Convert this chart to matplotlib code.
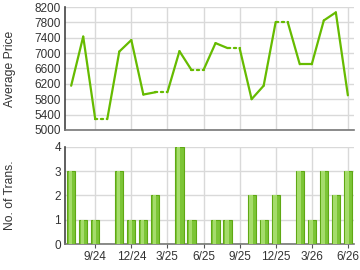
import numpy as np
import matplotlib.pyplot as plt

plt.rcParams['font.family'] = ['Liberation Sans', 'DejaVu Sans']

months = ['7/24', '8/24', '9/24', '10/24', '11/24', '12/24', '1/25', '2/25',
          '3/25', '4/25', '5/25', '6/25', '7/25', '8/25', '9/25', '10/25',
          '11/25', '12/25', '1/26', '2/26', '3/26', '4/26', '5/26', '6/26']
# months with no transactions carry the previous price (drawn dotted)
prices = [6150, 7430, 5280, 5280, 7040, 7340, 5920, 5980,
          5980, 7050, 6560, 6560, 7260, 7130, 7130, 5800,
          6150, 7810, 7810, 6710, 6710, 7850, 8060, 5900]
counts = [3, 1, 1, 0, 3, 1, 1, 2,
          0, 4, 1, 0, 1, 1, 0, 2,
          1, 2, 0, 3, 1, 3, 2, 3]
tick_idx = [2, 5, 8, 11, 14, 17, 20, 23]

grid_c = '#d9d9d9'
line_c = '#66bb00'

fig = plt.figure(figsize=(3.6, 2.7), dpi=100)
ax1 = fig.add_axes([0.181, 0.519, 0.802, 0.455])
ax2 = fig.add_axes([0.181, 0.096, 0.802, 0.360])

x = np.arange(len(months))

# price line
for i in range(1, len(x)):
    ls = ':' if counts[i] == 0 else '-'
    ax1.plot(x[i - 1:i + 1], prices[i - 1:i + 1], color=line_c, lw=1.6,
             ls=ls, solid_capstyle='round', dash_capstyle='round', zorder=3)
ax1.set_xlim(-0.5, len(x) - 0.5)
ax1.set_ylim(5000, 8200)
ax1.set_yticks(np.arange(5000, 8201, 400))
ax1.set_xticks(tick_idx)
ax1.set_xticklabels([])
ax1.set_ylabel('Average Price', fontsize=8.7, color='#333333')

# transactions bars
ax2.bar(x, counts, width=0.68, color='#7cc536', edgecolor='#5fa814', lw=0.8, zorder=3)
ax2.bar(x - 0.06, counts, width=0.28, color='#a5dc6b', lw=0, zorder=4)
ax2.set_xlim(-0.5, len(x) - 0.5)
ax2.set_ylim(0, 4)
ax2.set_yticks(range(5))
ax2.set_xticks(tick_idx)
ax2.set_xticklabels([months[i] for i in tick_idx])
ax2.set_ylabel('No. of Trans.', fontsize=8.7, color='#333333')

for ax in (ax1, ax2):
    ax.grid(True, color=grid_c, lw=1.0, zorder=0)
    ax.set_axisbelow(True)
    for s in ('top', 'right'):
        ax.spines[s].set_visible(False)
    ax.spines['left'].set_color('#444444')
    ax.spines['bottom'].set_color('#777777')
    ax.spines['left'].set_linewidth(1.2)
    ax.spines['bottom'].set_linewidth(1.2)
    ax.tick_params(labelsize=8.5, colors='#333333', length=0, pad=3)
    ax.yaxis.set_label_coords(-0.17, 0.5)
ax2.tick_params(axis='x', length=3, color='#555555', pad=2)

fig.savefig('out.png', dpi=100)
